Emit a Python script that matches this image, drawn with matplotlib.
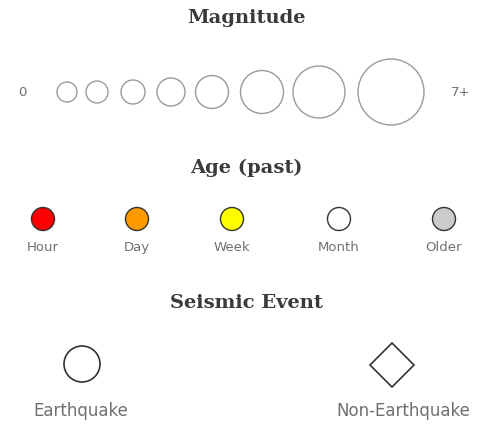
import matplotlib
matplotlib.use("Agg")
import matplotlib.pyplot as plt
from matplotlib.patches import Circle, RegularPolygon

# magnitude legend: 0 .. 7+
magnitudes = [0, 1, 2, 3, 4, 5, 6, 7]
mag_x = [67, 97, 133, 171, 212, 262, 319, 391]
mag_radius = [10, 11, 12, 14, 16.5, 21.5, 26, 33]

# age legend
age_labels = ["Hour", "Day", "Week", "Month", "Older"]
age_colors = ["#ff0000", "#ff9900", "#ffff00", "#ffffff", "#cccccc"]
age_x = [43, 137, 232, 339, 444]

# event type legend
event_labels = ["Earthquake", "Non-Earthquake"]
event_x = [82, 392]

W, H = 493, 427
fig = plt.figure(figsize=(W / 100, H / 100), dpi=100)
ax = fig.add_axes([0, 0, 1, 1])
ax.set_xlim(0, W)
ax.set_ylim(H, 0)
ax.axis("off")

title_kw = dict(ha="center", va="center", fontsize=14, color="#3a3a3a",
                family="DejaVu Serif", fontweight="bold")
label_kw = dict(ha="center", va="center", color="#707070", family="DejaVu Sans")

# Magnitude
ax.text(W / 2, 18, "Magnitude", **title_kw)
for x, r in zip(mag_x, mag_radius):
    ax.add_patch(Circle((x, 93), r, facecolor="white", edgecolor="#9a9a9a", lw=1))
ax.text(22, 92, str(magnitudes[0]), fontsize=9.5, **label_kw)
ax.text(461, 92, str(magnitudes[-1]) + "+", fontsize=9.5, **label_kw)

# Age
ax.text(W / 2, 168, "Age (past)", **title_kw)
for x, c, lab in zip(age_x, age_colors, age_labels):
    ax.add_patch(Circle((x, 220), 11.5, facecolor=c, edgecolor="#333333", lw=1))
    ax.text(x, 248, lab, fontsize=9.5, **label_kw)

# Seismic event
ax.text(W / 2, 303, "Seismic Event", **title_kw)
ax.add_patch(Circle((event_x[0], 365), 18, facecolor="white", edgecolor="#333333", lw=1.2))
ax.add_patch(RegularPolygon((event_x[1], 366), 4, radius=22, orientation=0,
                            facecolor="white", edgecolor="#333333", lw=1.2))
ax.text(81, 411, event_labels[0], fontsize=12, **label_kw)
ax.text(403, 411, event_labels[1], fontsize=12, **label_kw)

fig.savefig("out.png", dpi=100, facecolor="white")
